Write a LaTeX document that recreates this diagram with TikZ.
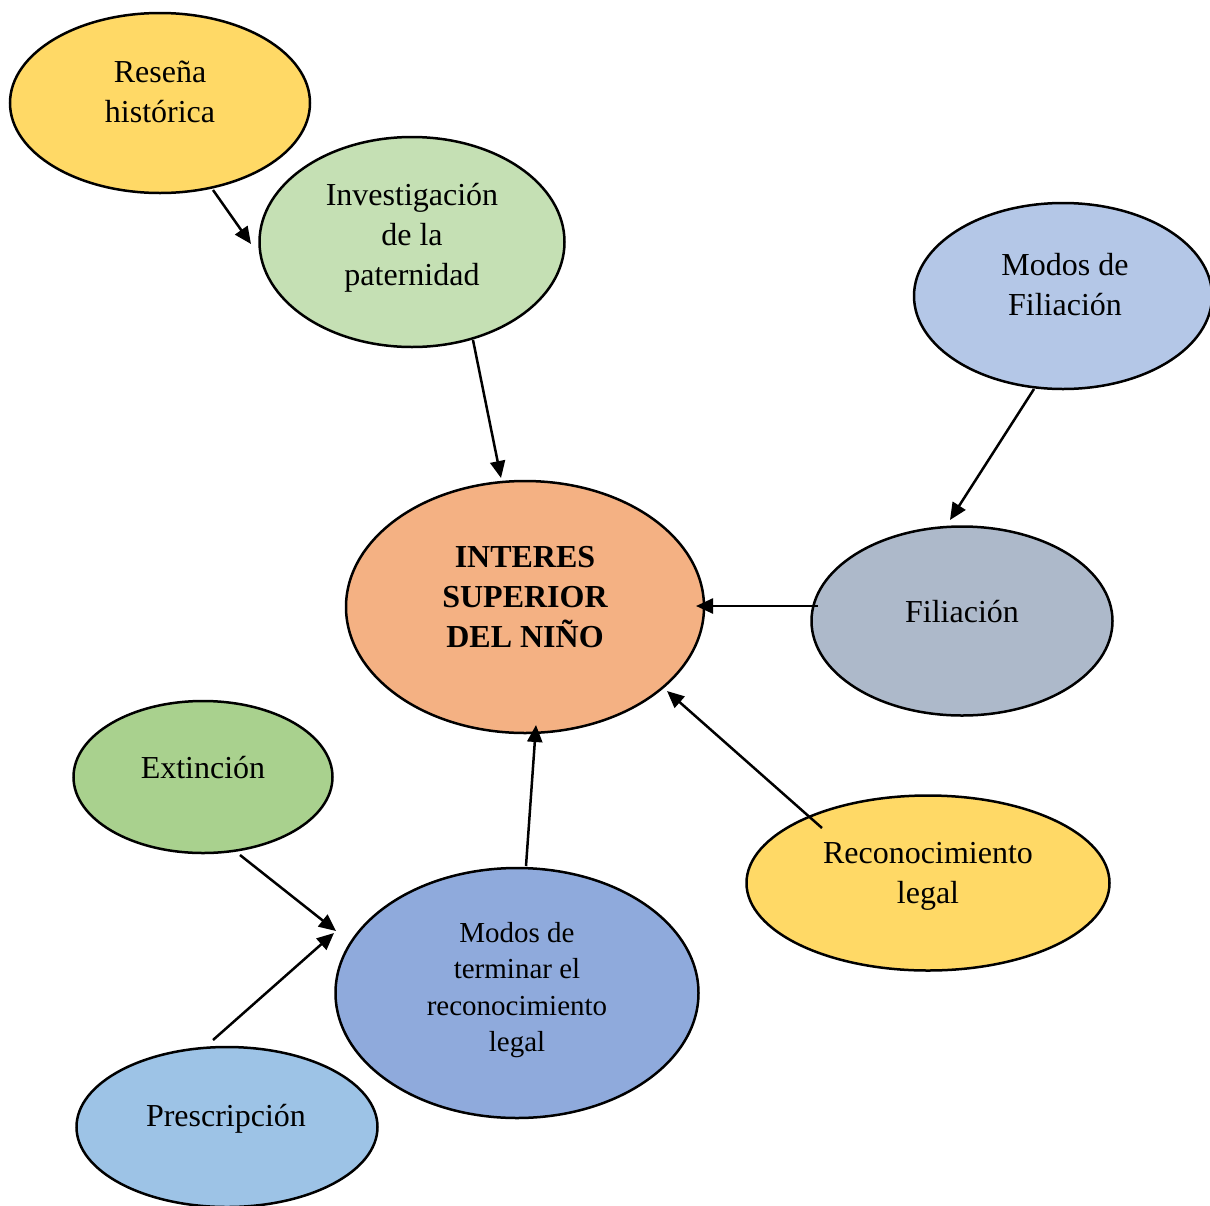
\documentclass[tikz,border=0pt]{standalone}
\usepackage{fontspec}
\setmainfont{Liberation Serif}
\usetikzlibrary{shapes.geometric,arrows.meta}
\definecolor{cgold}{HTML}{FFD966}
\definecolor{cgreenl}{HTML}{C5E0B4}
\definecolor{cbluel}{HTML}{B4C7E7}
\definecolor{corange}{HTML}{F4B183}
\definecolor{cgrey}{HTML}{ADB9CA}
\definecolor{cgreen}{HTML}{A9D18E}
\definecolor{cblue}{HTML}{8FAADC}
\definecolor{cskyblue}{HTML}{9DC3E6}
\begin{document}
\begin{tikzpicture}[x=1pt,y=-1pt,
  bubble/.style={ellipse,draw=black,line width=2.5pt,inner sep=0pt},
  txt/.style={align=center,inner sep=0pt,font=\fontsize{32}{40}\selectfont},
  smalltxt/.style={align=center,inner sep=0pt,font=\fontsize{29}{36.5}\selectfont},
  conn/.style={line width=2.5pt,-{Triangle[length=17pt,width=15pt]}}]
\clip (0,0) rectangle (1210,1205);
\fill[white] (0,0) rectangle (1210,1205);
% ellipses
\node[bubble,fill=cgold,minimum width=300,minimum height=180] (res) at (160,103) {};
\node[bubble,fill=cgreenl,minimum width=305,minimum height=210] (inv) at (412,242) {};
\node[bubble,fill=cbluel,minimum width=298,minimum height=186] (mfil) at (1063,296) {};
\node[bubble,fill=corange,minimum width=358,minimum height=252] (isn) at (525,607) {};
\node[bubble,fill=cgrey,minimum width=301,minimum height=189] (fil) at (962,621) {};
\node[bubble,fill=cgreen,minimum width=259,minimum height=152] (ext) at (203,777) {};
\node[bubble,fill=cgold,minimum width=363,minimum height=175] (rec) at (928,883) {};
\node[bubble,fill=cblue,minimum width=363,minimum height=250] (mterm) at (517,993) {};
\node[bubble,fill=cskyblue,minimum width=301,minimum height=160] (pres) at (227,1127) {};
% texts
\node[txt] (rest) at (160,92) {Reseña\\histórica};
\node[txt] (invt) at (412,238) {Investigación\\de la\\paternidad};
\node[txt] (mfilt) at (1065,285) {Modos de\\Filiación};
\node[txt,font=\fontsize{32}{40}\selectfont\bfseries] (isnt) at (525,597) {INTERES\\SUPERIOR\\DEL NIÑO};
\node[txt] (filt) at (962,612) {Filiación};
\node[txt] (extt) at (203,768) {Extinción};
\node[txt] (rect) at (928,876) {Reconocimiento\\legal};
\node[smalltxt] (mtermt) at (517,990) {Modos de\\terminar el\\reconocimiento\\legal};
\node[txt] (prest) at (226,1119) {Prescripción};
% connector ends
\coordinate (a1) at (213,190); \coordinate (b1) at (251,244);
\coordinate (a2) at (473,340); \coordinate (b2) at (501,478);
\coordinate (a3) at (1034,389); \coordinate (b3) at (950,520);
\coordinate (a4) at (818,606); \coordinate (b4) at (696,606);
\coordinate (a5) at (822,828); \coordinate (b5) at (667,691);
\coordinate (a6) at (526,866); \coordinate (b6) at (536,725);
\coordinate (a7) at (240,855); \coordinate (b7) at (336,931);
\coordinate (a8) at (213,1040); \coordinate (b8) at (334,933);
\draw[conn] (a1) -- (b1);
\draw[conn] (a2) -- (b2);
\draw[conn] (a3) -- (b3);
\draw[conn] (a4) -- (b4);
\draw[conn] (a5) -- (b5);
\draw[conn] (a6) -- (b6);
\draw[conn] (a7) -- (b7);
\draw[conn] (a8) -- (b8);
\end{tikzpicture}
\end{document}
